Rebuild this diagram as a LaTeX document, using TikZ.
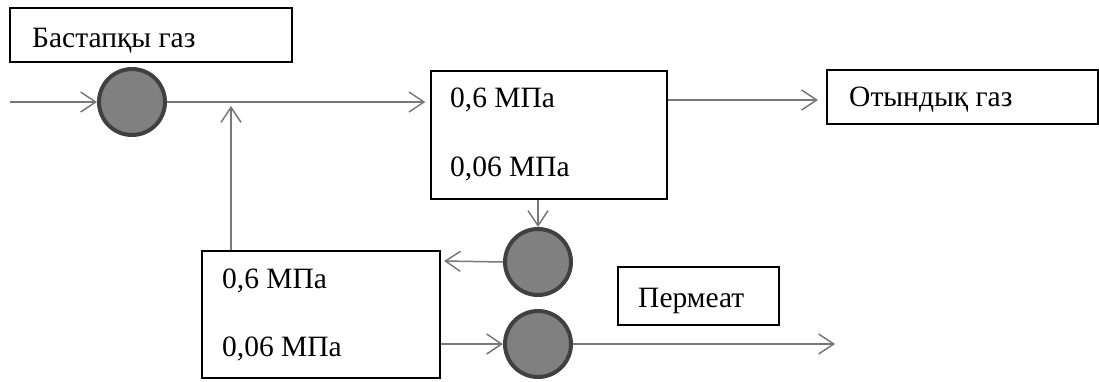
\documentclass[tikz,border=0pt]{standalone}
\usepackage{fontspec}
\setmainfont{Liberation Serif}
\usetikzlibrary{arrows.meta,positioning}

\begin{document}
\begin{tikzpicture}[x=1pt,y=-1pt,>={Straight Barb[length=15pt,width=20pt]},
    flow/.style={->,draw=black!53,line width=1.5pt},
    box/.style={draw,rectangle,line width=1.3pt,inner sep=0pt},
    valve/.style={circle,draw=black!75,fill=black!50,line width=4pt,minimum size=66pt,inner sep=0pt},
    txt/.style={anchor=base west,inner sep=0pt,font=\fontsize{29.5}{35}\selectfont}]
            \useasboundingbox (0,0) rectangle (1099,381);
            \node[box,minimum width=282,minimum height=54] (feedbox) at (151,35) {};
            \node[txt] (feed) at (32,47) {Бастапқы газ};
            \node[valve] (V1) at (132,102) {};
            \node[box,minimum width=236,minimum height=128] (M1) at (549,135) {};
            \node[txt] (M1hi) at (450,107) {0,6 МПа};
            \node[txt] (M1lo) at (450,176) {0,06 МПа};
            \node[box,minimum width=271,minimum height=54] (fuelbox) at (962.5,97) {};
            \node[txt] (fuel) at (849,106) {Отындық газ};
            \node[valve] (V2) at (538,262) {};
            \node[box,minimum width=238,minimum height=127] (M2) at (321,314.5) {};
            \node[txt] (M2hi) at (222,288) {0,6 МПа};
            \node[txt] (M2lo) at (222,356) {0,06 МПа};
            \node[valve] (V3) at (538,344) {};
            \node[box,minimum width=161,minimum height=58] (permbox) at (698.5,296) {};
            \node[txt] (perm) at (638,307) {Пермеат};

            \coordinate (src) at (10,102);
            \coordinate (join) at (231,106);
            \coordinate (fuelin) at (818,100);
            \coordinate (ret) at (444,261);
            \coordinate (permout) at (835,344);

            \path
            (src) edge[flow] (V1.west)
            (V1.east) edge[flow,shorten >=5pt] (V1.east -| M1.west)
            (M1.east |- fuelin) edge[flow] (fuelin)
            (M1.south -| V2) edge[flow] (V2.north)
            (V2.west) edge[flow] (ret)
            (M2.north -| join) edge[flow] (join)
            (M2.east |- V3) edge[flow] (V3.west)
            (V3.east) edge[flow] (permout);
\end{tikzpicture}
\end{document}
